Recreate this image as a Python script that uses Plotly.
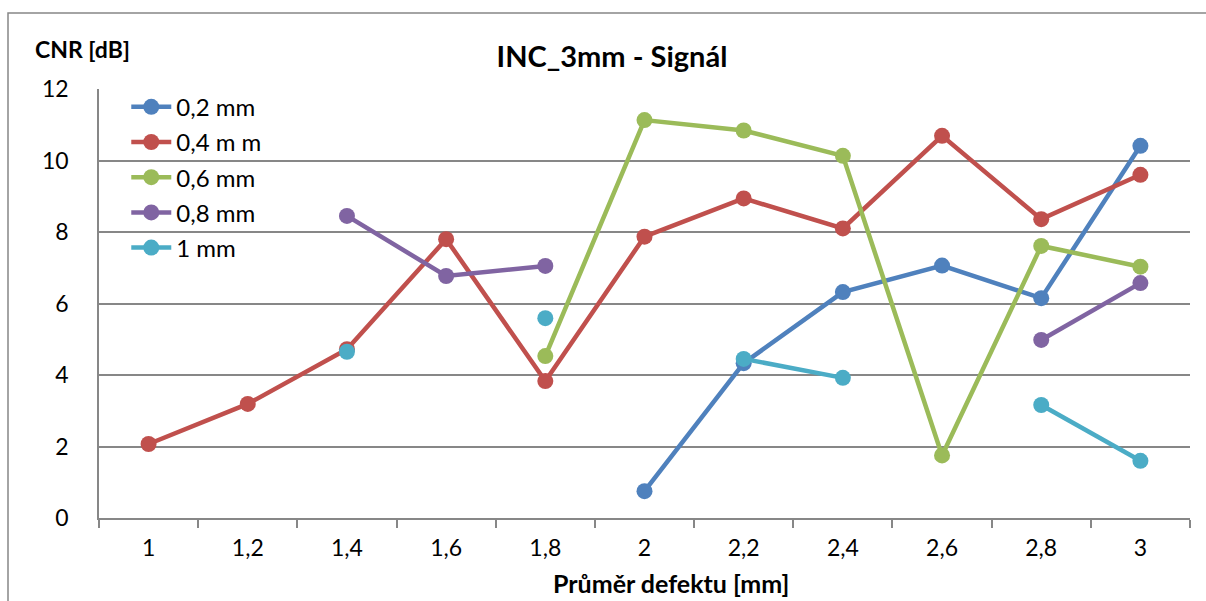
import plotly.graph_objects as go

# Defect diameter categories [mm]
categories = ["1", "1,2", "1,4", "1,6", "1,8", "2", "2,2", "2,4", "2,6", "2,8", "3"]

# CNR [dB] per hole depth series (None = not measured)
cnr_02 = [None, None, None, None, None, 0.75, 4.33, 6.32, 7.06, 6.15, 10.41]
cnr_04 = [2.07, 3.19, 4.72, 7.80, 3.83, 7.87, 8.94, 8.10, 10.69, 8.36, 9.60]
cnr_06 = [None, None, None, None, 4.53, 11.13, 10.84, 10.13, 1.75, 7.61, 7.03]
cnr_08 = [None, None, 8.45, 6.77, 7.05, None, None, None, None, 4.98, 6.57]
cnr_10 = [None, None, 4.65, None, 5.59, None, 4.45, 3.92, None, 3.16, 1.60]

series_names = ["0,2 mm", "0,4 m m", "0,6 mm", "0,8 mm", "1 mm"]
series_values = [cnr_02, cnr_04, cnr_06, cnr_08, cnr_10]
series_colors = ["#4F81BD", "#C0504D", "#9BBB59", "#8064A2", "#4BACC6"]

FONT = "Lato, Calibri, Carlito, sans-serif"
GRID = "#878787"

fig = go.Figure()
for name, vals, col in zip(series_names, series_values, series_colors):
    fig.add_trace(go.Scatter(
        x=categories, y=vals, name=name, mode="lines+markers",
        connectgaps=False, legendgroup=name,
        line=dict(color=col, width=4.5),
        marker=dict(color=col, size=16),
    ))

fig.update_layout(
    width=1206, height=601,
    margin=dict(l=99, r=16, t=89, b=83),
    paper_bgcolor="white", plot_bgcolor="white",
    font=dict(family=FONT, size=23, color="#000000"),
    title=dict(text="<b>INC_3mm - Signál</b>", x=(612 - 99) / 1091, xref="paper",
               xanchor="center", y=1 - 57 / 601, yanchor="middle",
               font=dict(family=FONT, size=29, color="#000000")),
    showlegend=True,
    legend=dict(x=0.025, y=1.01, xanchor="left", yanchor="top",
                bgcolor="rgba(0,0,0,0)", tracegroupgap=1,
                font=dict(family=FONT, size=24, color="#000000"),
                itemwidth=40),
    xaxis=dict(type="category", range=[-0.5, 10.5], tickson="boundaries",
               ticks="outside", ticklen=8, tickwidth=1.5, tickcolor=GRID,
               showline=True, linecolor=GRID, linewidth=1.5,
               showgrid=False, zeroline=False,
               tickfont=dict(family=FONT, size=23), ticklabelstandoff=9,
               fixedrange=True),
    yaxis=dict(range=[0, 12], dtick=2, showgrid=True, gridcolor=GRID,
               gridwidth=1.5, showline=True, linecolor=GRID, linewidth=1.5,
               zeroline=False, ticks="", ticklabelstandoff=24,
               tickfont=dict(family=FONT, size=23), fixedrange=True),
)

# Axis captions
fig.add_annotation(text="<b>CNR [dB]</b>", xref="paper", yref="paper",
                   x=-66 / 1091, y=1 + 40 / 429, xanchor="left", yanchor="middle",
                   showarrow=False, font=dict(family=FONT, size=23))
fig.add_annotation(text="<b>Průměr defektu [mm]</b>", xref="paper", yref="paper",
                   x=(671 - 99) / 1091, y=-65 / 429, xanchor="center", yanchor="middle",
                   showarrow=False, font=dict(family=FONT, size=25))

# Chart frame
fig.add_shape(type="rect", xref="paper", yref="paper",
              x0=-91 / 1091, x1=1.05, y0=-0.3, y1=1 + 76 / 429,
              line=dict(color=GRID, width=1.5), fillcolor="rgba(0,0,0,0)",
              layer="below")

fig.write_html("out.html")
